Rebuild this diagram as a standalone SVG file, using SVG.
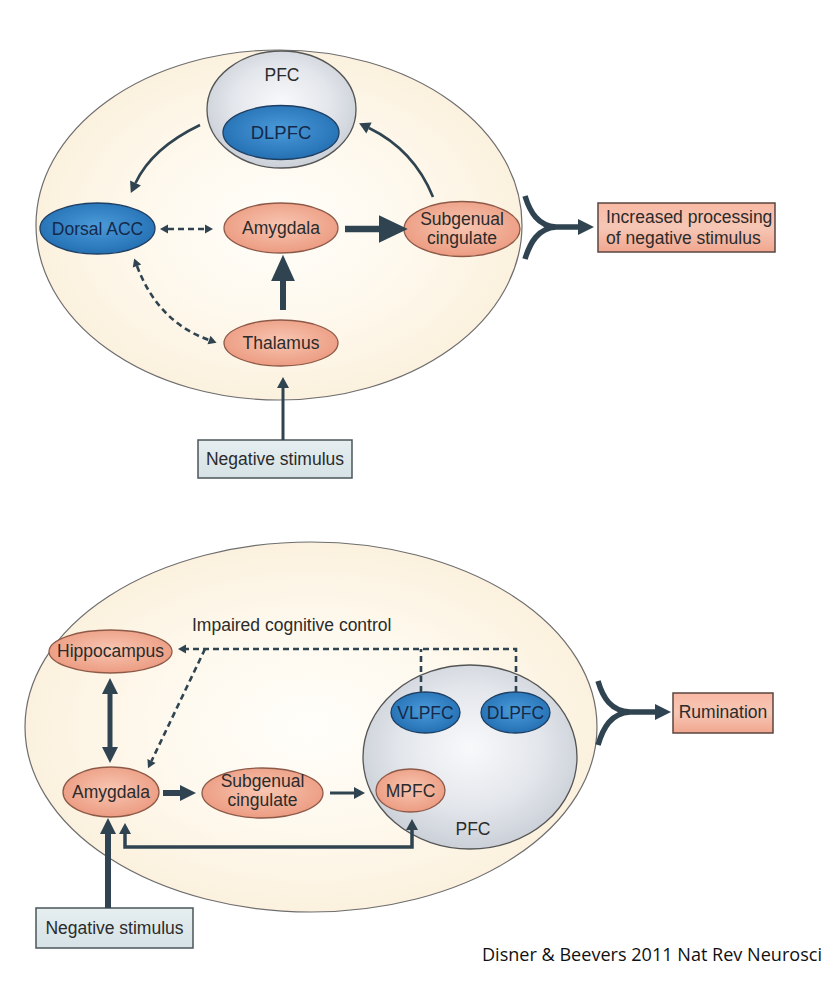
<svg xmlns="http://www.w3.org/2000/svg" width="839" height="984" viewBox="0 0 839 984">
<defs>
<radialGradient id="gCream" cx="50%" cy="50%" r="50%">
<stop offset="0" stop-color="#FFFEFA"/><stop offset="0.6" stop-color="#FEF8EC"/><stop offset="1" stop-color="#FBF1DE"/>
</radialGradient>
<radialGradient id="gGray" cx="50%" cy="45%" r="55%">
<stop offset="0" stop-color="#F8F9FB"/><stop offset="0.6" stop-color="#E3E6EB"/><stop offset="1" stop-color="#CBD0D8"/>
</radialGradient>
<radialGradient id="gOrange" cx="50%" cy="45%" r="55%">
<stop offset="0" stop-color="#F8C6B2"/><stop offset="1" stop-color="#EC9C82"/>
</radialGradient>
<radialGradient id="gBlue" cx="50%" cy="45%" r="55%">
<stop offset="0" stop-color="#4B9BDA"/><stop offset="1" stop-color="#2470B3"/>
</radialGradient>
<linearGradient id="gBox" x1="0" y1="0" x2="0" y2="1">
<stop offset="0" stop-color="#F9B9A4"/><stop offset="0.5" stop-color="#F6C7B6"/><stop offset="1" stop-color="#F1A68E"/>
</linearGradient>
<linearGradient id="gStim" x1="0" y1="0" x2="0" y2="1">
<stop offset="0" stop-color="#E6EEF0"/><stop offset="1" stop-color="#D6E2E6"/>
</linearGradient>
<marker id="hL" markerUnits="userSpaceOnUse" markerWidth="30" markerHeight="30" viewBox="0 -12 24 24" refX="0" refY="0" orient="auto-start-reverse"><path d="M0,-11 L23,0 L0,11 z" fill="#2F4450"/></marker>
<marker id="hT" markerUnits="userSpaceOnUse" markerWidth="30" markerHeight="30" viewBox="0 -12 24 24" refX="0" refY="0" orient="auto-start-reverse"><path d="M0,-9.5 L21,0 L0,9.5 z" fill="#2F4450"/></marker>
<marker id="hB" markerUnits="userSpaceOnUse" markerWidth="20" markerHeight="20" viewBox="0 -10 18 20" refX="0" refY="0" orient="auto-start-reverse"><path d="M0,-8 L16,0 L0,8 z" fill="#2F4450"/></marker>
<marker id="hM" markerUnits="userSpaceOnUse" markerWidth="16" markerHeight="16" viewBox="0 -8 14 16" refX="0" refY="0" orient="auto-start-reverse"><path d="M0,-6 L11,0 L0,6 z" fill="#2F4450"/></marker>
<marker id="hS" markerUnits="userSpaceOnUse" markerWidth="12" markerHeight="12" viewBox="0 -6 10 12" refX="0" refY="0" orient="auto-start-reverse"><path d="M0,-4.5 L8,0 L0,4.5 z" fill="#2F4450"/></marker>
</defs>
<style>
.t{font-family:"Liberation Sans",Arial,sans-serif;font-size:17.5px;fill:#2B2B2B;text-anchor:middle}
.tb{fill:#15294A}
.l{text-anchor:start}
.outer{fill:url(#gCream);stroke:#6E6E6E;stroke-width:1.2}
.pfc{fill:url(#gGray);stroke:#555;stroke-width:1.3}
.on{fill:url(#gOrange);stroke:#8E5A48;stroke-width:1.3}
.bn{fill:url(#gBlue);stroke:#1E3F63;stroke-width:1.3}
.c{fill:none;stroke:#2F4450;stroke-linecap:butt}
.d{stroke-dasharray:6 4}
.box{fill:url(#gBox);stroke:#5A4540;stroke-width:1.5}
.stim{fill:url(#gStim);stroke:#4A5558;stroke-width:1.5}
</style>
<rect width="839" height="984" fill="#FFFFFF"/>

<!-- TOP PANEL -->
<g id="top-region"><ellipse class="outer" cx="279" cy="225" rx="243" ry="175"/></g>
<g id="top-pfc"><ellipse class="pfc" cx="281.5" cy="109.5" rx="74.5" ry="58.5"/><text class="t" x="282" y="81">PFC</text></g>
<g id="top-dlpfc"><ellipse class="bn" cx="281" cy="132.5" rx="58" ry="27"/><text class="t tb" x="281" y="139" style="font-size:18.5px">DLPFC</text></g>
<g id="top-dacc"><ellipse class="bn" cx="97.5" cy="228.5" rx="57.5" ry="25.5"/><text class="t tb" x="97.5" y="235">Dorsal ACC</text></g>
<g id="top-amygdala"><ellipse class="on" cx="281" cy="228" rx="57" ry="25"/><text class="t" x="281" y="234">Amygdala</text></g>
<g id="top-subgenual"><ellipse class="on" cx="462" cy="229" rx="58" ry="27.5"/><text class="t" x="462" y="225">Subgenual</text><text class="t" x="462" y="244">cingulate</text></g>
<g id="top-thalamus"><ellipse class="on" cx="281" cy="343" rx="57" ry="23"/><text class="t" x="281" y="349">Thalamus</text></g>
<g id="top-stimulus"><rect class="stim" x="198" y="440" width="154" height="38"/><text class="t" x="275" y="465">Negative stimulus</text></g>
<g id="top-outcome"><rect class="box" x="598" y="203" width="177" height="49"/><text class="t l" x="606" y="223">Increased processing</text><text class="t l" x="606" y="244">of negative stimulus</text></g>

<!-- BOTTOM PANEL -->
<g id="bot-region"><ellipse class="outer" cx="311" cy="727" rx="286" ry="185"/></g>
<g id="bot-pfc"><ellipse class="pfc" cx="470" cy="757" rx="107" ry="92"/><text class="t" x="473" y="835">PFC</text></g>
<g id="bot-vlpfc"><ellipse class="bn" cx="425.5" cy="712.5" rx="34.5" ry="20.5"/><text class="t tb" x="425.5" y="719">VLPFC</text></g>
<g id="bot-dlpfc"><ellipse class="bn" cx="515.5" cy="712.5" rx="34.5" ry="20.5"/><text class="t tb" x="515.5" y="719">DLPFC</text></g>
<g id="bot-mpfc"><ellipse class="on" cx="410.5" cy="790.5" rx="34.5" ry="21.5"/><text class="t" x="410.5" y="797">MPFC</text></g>
<g id="bot-hippocampus"><ellipse class="on" cx="110.5" cy="651.5" rx="61.5" ry="21.5"/><text class="t" x="110.5" y="657">Hippocampus</text></g>
<g id="bot-amygdala"><ellipse class="on" cx="111" cy="792" rx="48" ry="25"/><text class="t" x="111" y="798">Amygdala</text></g>
<g id="bot-subgenual"><ellipse class="on" cx="262.5" cy="793" rx="60.5" ry="25"/><text class="t" x="262.5" y="787">Subgenual</text><text class="t" x="262.5" y="806">cingulate</text></g>
<g id="bot-stimulus"><rect class="stim" x="36" y="908" width="157" height="40"/><text class="t" x="114.5" y="934">Negative stimulus</text></g>
<g id="bot-outcome"><rect class="box" x="673" y="693" width="100" height="40"/><text class="t" x="723" y="718">Rumination</text></g>
<text class="t l" x="192" y="631">Impaired cognitive control</text>

<!-- CONNECTORS -->
<g id="connectors">
<!-- top -->
<path class="c" d="M200,125 Q152,148 135.5,183" stroke-width="2.6" marker-end="url(#hM)"/>
<path class="c" d="M433,197 Q414,150 369,128" stroke-width="2.6" marker-end="url(#hM)"/>
<path class="c d" d="M168,229 L205,229" stroke-width="2.6" marker-start="url(#hS)" marker-end="url(#hS)"/>
<path class="c" d="M345,229 L379,229" stroke-width="6.5" marker-end="url(#hL)"/>
<path class="c" d="M283,310 L283,281" stroke-width="6" marker-end="url(#hT)"/>
<path class="c" d="M283,440 L283,388" stroke-width="3" marker-end="url(#hM)"/>
<path class="c d" d="M137,266 Q158,322 209,340" stroke-width="2.6" marker-start="url(#hS)" marker-end="url(#hS)"/>
<path class="c" d="M525,196 C530,212 538,226 556,227 M525,259 C530,243 538,228 556,227 M550,227 L578,227" stroke-width="5.5" marker-end="url(#hB)"/>
<!-- bottom -->
<path class="c" d="M110,694 L110,747" stroke-width="5" marker-start="url(#hB)" marker-end="url(#hB)"/>
<path class="c" d="M163,793 L180,793" stroke-width="6" marker-end="url(#hB)"/>
<path class="c" d="M330,793 L354,793" stroke-width="3" marker-end="url(#hM)"/>
<path class="c" d="M108,908 L108,834" stroke-width="6" marker-end="url(#hB)"/>
<path class="c" d="M125,834 L125,847 L412,847 L412,830" stroke-width="3.5" marker-start="url(#hM)" marker-end="url(#hM)"/>
<path class="c d" d="M516,692 L516,649 L186,649" stroke-width="2.6" marker-end="url(#hS)"/>
<path class="c d" d="M421,692 L421,649" stroke-width="2.6"/>
<path class="c d" d="M205,649 L151.5,761" stroke-width="2.6" marker-end="url(#hS)"/>
<path class="c" d="M598,681 C603,698 611,711 630,712 M598,745 C603,728 611,713 630,712 M624,712 L655,712" stroke-width="5.5" marker-end="url(#hB)"/>
</g>
<text x="482" y="961" style="font-family:'Open Sans','Noto Sans',sans-serif;font-size:19px;fill:#111" textLength="340" lengthAdjust="spacingAndGlyphs">Disner &amp; Beevers 2011 Nat Rev Neurosci</text>
</svg>
